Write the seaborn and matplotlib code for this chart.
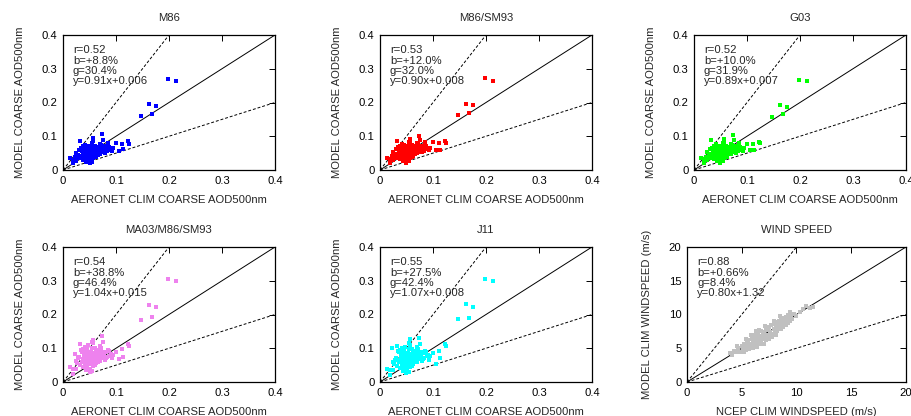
import numpy as np
import pandas as pd
import matplotlib
matplotlib.use("Agg")
import matplotlib.pyplot as plt
import seaborn as sns

# ---------------- data ----------------
aeronet_x = [0.199, 0.213, 0.163, 0.175, 0.147, 0.167, 0.123, 0.125, 0.111, 0.100,
             0.105, 0.113, 0.092, 0.095, 0.085, 0.088, 0.080, 0.082, 0.078, 0.074,
             0.075, 0.072, 0.032, 0.057, 0.057, 0.013, 0.019, 0.050, 0.018, 0.022,
             0.025, 0.028, 0.030, 0.033, 0.035, 0.036, 0.038, 0.038, 0.040, 0.040,
             0.042, 0.042, 0.043, 0.044, 0.045, 0.045, 0.046, 0.047, 0.048, 0.048,
             0.049, 0.050, 0.050, 0.051, 0.052, 0.053, 0.054, 0.055, 0.055, 0.056,
             0.057, 0.058, 0.059, 0.060, 0.061, 0.062, 0.063, 0.064, 0.065, 0.066,
             0.067, 0.068, 0.069, 0.070, 0.070, 0.071, 0.073, 0.076, 0.077, 0.079,
             0.081, 0.083, 0.086, 0.090, 0.034, 0.037, 0.039, 0.041, 0.044, 0.046,
             0.047, 0.049, 0.052, 0.053, 0.054, 0.056, 0.058, 0.060, 0.027, 0.024]

y_m86 = [0.270, 0.265, 0.195, 0.190, 0.160, 0.166, 0.085, 0.078, 0.077, 0.080,
         0.057, 0.062, 0.057, 0.065, 0.080, 0.062, 0.070, 0.058, 0.066, 0.106,
         0.088, 0.075, 0.085, 0.094, 0.085, 0.035, 0.020, 0.020, 0.030, 0.040,
         0.050, 0.045, 0.060, 0.035, 0.055, 0.042, 0.070, 0.030, 0.050, 0.062,
         0.040, 0.075, 0.025, 0.055, 0.047, 0.065, 0.035, 0.058, 0.043, 0.070,
         0.052, 0.038, 0.062, 0.030, 0.048, 0.056, 0.068, 0.042, 0.080, 0.052,
         0.035, 0.060, 0.047, 0.072, 0.055, 0.040, 0.065, 0.050, 0.058, 0.045,
         0.068, 0.053, 0.060, 0.048, 0.078, 0.055, 0.062, 0.052, 0.058, 0.050,
         0.062, 0.055, 0.068, 0.060, 0.065, 0.048, 0.058, 0.068, 0.033, 0.072,
         0.052, 0.060, 0.040, 0.065, 0.025, 0.045, 0.052, 0.038, 0.038, 0.028]

y_sm93 = [0.272, 0.263, 0.197, 0.192, 0.162, 0.168, 0.087, 0.080, 0.079, 0.082,
          0.059, 0.060, 0.058, 0.066, 0.082, 0.064, 0.071, 0.060, 0.067, 0.100,
          0.090, 0.076, 0.086, 0.092, 0.087, 0.037, 0.022, 0.022, 0.032, 0.042,
          0.052, 0.047, 0.062, 0.037, 0.057, 0.044, 0.072, 0.032, 0.052, 0.064,
          0.042, 0.077, 0.027, 0.057, 0.049, 0.067, 0.037, 0.060, 0.045, 0.072,
          0.054, 0.040, 0.064, 0.032, 0.050, 0.058, 0.070, 0.044, 0.082, 0.054,
          0.037, 0.062, 0.049, 0.074, 0.057, 0.042, 0.067, 0.052, 0.060, 0.047,
          0.070, 0.055, 0.062, 0.050, 0.080, 0.057, 0.064, 0.054, 0.060, 0.052,
          0.064, 0.057, 0.070, 0.062, 0.067, 0.050, 0.060, 0.070, 0.035, 0.074,
          0.054, 0.062, 0.042, 0.067, 0.027, 0.047, 0.054, 0.040, 0.040, 0.030]

y_g03 = [0.266, 0.264, 0.192, 0.187, 0.156, 0.165, 0.084, 0.080, 0.076, 0.078,
         0.058, 0.060, 0.056, 0.064, 0.079, 0.062, 0.070, 0.058, 0.065, 0.103,
         0.088, 0.074, 0.088, 0.092, 0.083, 0.037, 0.020, 0.021, 0.033, 0.040,
         0.052, 0.046, 0.062, 0.036, 0.056, 0.043, 0.070, 0.032, 0.050, 0.062,
         0.040, 0.076, 0.026, 0.055, 0.047, 0.065, 0.036, 0.058, 0.044, 0.071,
         0.052, 0.039, 0.062, 0.030, 0.048, 0.057, 0.068, 0.043, 0.080, 0.053,
         0.036, 0.060, 0.047, 0.072, 0.055, 0.040, 0.065, 0.050, 0.058, 0.046,
         0.068, 0.053, 0.060, 0.048, 0.078, 0.055, 0.062, 0.052, 0.058, 0.050,
         0.062, 0.055, 0.068, 0.060, 0.066, 0.049, 0.058, 0.068, 0.034, 0.072,
         0.052, 0.060, 0.041, 0.065, 0.026, 0.045, 0.052, 0.038, 0.039, 0.029]

y_ma03 = [0.304, 0.300, 0.228, 0.221, 0.183, 0.193, 0.112, 0.106, 0.098, 0.088,
          0.068, 0.075, 0.072, 0.080, 0.095, 0.078, 0.090, 0.070, 0.085, 0.137,
          0.118, 0.100, 0.113, 0.125, 0.115, 0.045, 0.025, 0.030, 0.038, 0.083,
          0.062, 0.070, 0.075, 0.050, 0.090, 0.060, 0.098, 0.045, 0.072, 0.085,
          0.055, 0.105, 0.035, 0.078, 0.065, 0.092, 0.050, 0.082, 0.060, 0.110,
          0.070, 0.052, 0.088, 0.040, 0.066, 0.078, 0.100, 0.058, 0.118, 0.072,
          0.048, 0.085, 0.065, 0.102, 0.075, 0.055, 0.090, 0.068, 0.080, 0.060,
          0.095, 0.072, 0.085, 0.062, 0.108, 0.076, 0.088, 0.070, 0.080, 0.065,
          0.088, 0.075, 0.092, 0.082, 0.095, 0.068, 0.080, 0.096, 0.042, 0.100,
          0.072, 0.080, 0.056, 0.090, 0.033, 0.062, 0.070, 0.050, 0.055, 0.040]

y_j11 = [0.304, 0.298, 0.230, 0.222, 0.186, 0.190, 0.112, 0.108, 0.092, 0.085,
         0.053, 0.070, 0.066, 0.078, 0.093, 0.076, 0.088, 0.068, 0.082, 0.130,
         0.112, 0.097, 0.108, 0.127, 0.110, 0.040, 0.022, 0.027, 0.035, 0.100,
         0.060, 0.065, 0.072, 0.048, 0.088, 0.058, 0.095, 0.042, 0.070, 0.082,
         0.052, 0.100, 0.032, 0.076, 0.062, 0.090, 0.048, 0.080, 0.058, 0.105,
         0.068, 0.050, 0.085, 0.038, 0.064, 0.075, 0.097, 0.055, 0.115, 0.070,
         0.045, 0.083, 0.063, 0.098, 0.072, 0.052, 0.088, 0.065, 0.078, 0.058,
         0.092, 0.070, 0.082, 0.060, 0.105, 0.073, 0.085, 0.068, 0.077, 0.062,
         0.085, 0.072, 0.090, 0.080, 0.092, 0.065, 0.078, 0.093, 0.040, 0.098,
         0.070, 0.077, 0.053, 0.087, 0.030, 0.060, 0.068, 0.048, 0.052, 0.037]

wind_x = [3.9, 4.1, 4.3, 4.5, 4.7, 4.8, 5.0, 5.1, 5.2, 5.3, 5.4, 5.5, 5.6, 5.6, 5.7,
          5.8, 5.9, 5.9, 6.0, 6.0, 6.1, 6.2, 6.2, 6.3, 6.4, 6.4, 6.5, 6.5, 6.6, 6.7,
          6.7, 6.8, 6.8, 6.9, 7.0, 7.0, 7.1, 7.2, 7.2, 7.3, 7.4, 7.4, 7.5, 7.6, 7.6,
          7.7, 7.8, 7.8, 7.9, 8.0, 8.0, 8.1, 8.2, 8.2, 8.3, 8.4, 8.4, 8.5, 8.6, 8.6,
          8.7, 8.8, 8.9, 9.0, 9.0, 9.1, 9.2, 9.3, 9.4, 9.5, 9.6, 9.8, 10.0, 10.3, 10.6,
          10.9, 11.2, 11.5, 6.3, 5.8, 7.1, 6.6, 7.9, 8.5, 5.4, 4.6, 9.2, 6.9, 7.5, 8.1,
          5.2, 6.0, 8.8, 9.4]
wind_y = [4.3, 4.0, 4.6, 4.4, 5.0, 4.5, 5.3, 4.8, 5.6, 5.1, 4.7, 5.8, 5.3, 6.2, 4.9,
          5.6, 6.4, 5.2, 6.0, 6.8, 5.5, 6.3, 7.0, 5.8, 6.6, 5.2, 6.1, 7.2, 6.8, 5.7,
          6.4, 7.5, 6.0, 6.9, 7.4, 5.6, 6.6, 7.9, 6.2, 7.0, 7.7, 6.5, 8.1, 6.9, 7.4,
          8.4, 7.1, 6.6, 7.8, 8.6, 7.3, 8.0, 8.9, 7.5, 8.3, 7.8, 9.1, 8.5, 7.9, 9.4,
          8.7, 8.2, 9.0, 8.5, 9.6, 9.2, 8.8, 9.7, 9.1, 9.9, 9.4, 10.1, 9.8, 10.4, 10.8,
          11.3, 11.0, 11.1, 7.5, 7.0, 8.3, 7.7, 9.1, 9.8, 6.3, 5.4, 10.0, 6.3, 6.4, 7.0,
          4.5, 5.0, 9.5, 10.4]

titles = ["M86", "M86/SM93", "G03", "MA03/M86/SM93", "J11", "WIND SPEED"]
colors = ["#0000ff", "#ff0000", "#00ff00", "#ee82ee", "#00ffff", "#c0c0c0"]
stats = [["r=0.52", "b=+8.8%", "g=30.4%", "y=0.91x+0.006"],
         ["r=0.53", "b=+12.0%", "g=32.0%", "y=0.90x+0.008"],
         ["r=0.52", "b=+10.0%", "g=31.9%", "y=0.89x+0.007"],
         ["r=0.54", "b=+38.8%", "g=46.4%", "y=1.04x+0.015"],
         ["r=0.55", "b=+27.5%", "g=42.4%", "y=1.07x+0.008"],
         ["r=0.88", "b=+0.66%", "g=8.4%", "y=0.80x+1.32"]]
aod_ticks = [0, 0.1, 0.2, 0.3, 0.4]
aod_ticklabels = ["0", "0.1", "0.2", "0.3", "0.4"]
wind_ticks = [0, 5, 10, 15, 20]
wind_ticklabels = ["0", "5", "10", "15", "20"]
aod_xlabel = "AERONET CLIM COARSE AOD500nm"
aod_ylabel = "MODEL COARSE AOD500nm"
wind_xlabel = "NCEP CLIM WINDSPEED (m/s)"
wind_ylabel = "MODEL CLIM WINDSPEED (m/s)"

# ---------------- plot ----------------
sns.set_style("white")
plt.rcParams["font.family"] = ["Liberation Sans", "DejaVu Sans"]
FS = 8.1
plt.rcParams["font.size"] = FS

W, H = 912, 416
fig = plt.figure(figsize=(W / 100, H / 100), dpi=100)

lefts = [63, 380, 694]
tops = [35, 247]
aw, ah = 212, 135

panels = [(aeronet_x, y_m86), (aeronet_x, y_sm93), (aeronet_x, y_g03),
          (aeronet_x, y_ma03), (aeronet_x, y_j11), (wind_x, wind_y)]

for i, (xs, ys) in enumerate(panels):
    r, c = divmod(i, 3)
    left = lefts[c] if i != 5 else 687
    width = aw if i != 5 else 219
    ax = fig.add_axes([left / W, 1 - (tops[r] + ah) / H, width / W, ah / H])
    df = pd.DataFrame({"x": xs, "y": ys})
    sns.scatterplot(data=df, x="x", y="y", ax=ax, color=colors[i], marker="s",
                    s=12, linewidth=0, zorder=3)
    if i == 5:
        ticks, tl, xl, yl = wind_ticks, wind_ticklabels, wind_xlabel, wind_ylabel
    else:
        ticks, tl, xl, yl = aod_ticks, aod_ticklabels, aod_xlabel, aod_ylabel
    lo, hi = ticks[0], ticks[-1]
    ax.set_xlim(lo, hi)
    ax.set_ylim(lo, hi)
    ref = np.array([lo, hi])
    ax.plot(ref, ref, color="black", lw=0.7, zorder=2)
    ax.plot(ref / 2, ref, color="black", lw=0.7, ls=(0, (3, 2)), zorder=2)
    ax.plot(ref, ref / 2, color="black", lw=0.7, ls=(0, (3, 2)), zorder=2)
    ax.set_xticks(ticks)
    ax.set_yticks(ticks)
    ax.set_xticklabels(tl)
    ax.set_yticklabels(tl)
    ax.tick_params(direction="in", top=True, right=True, length=4, width=0.7,
                   labelsize=FS, pad=4, colors="black")
    for sp in ax.spines.values():
        sp.set_linewidth(0.9)
        sp.set_color("black")
    ax.set_xlabel(xl, fontsize=FS, labelpad=7)
    ax.set_ylabel(yl, fontsize=FS, labelpad=12)
    ax.set_title(titles[i], fontsize=FS, pad=10)
    ax.text(0.047, 0.925, "\n".join(stats[i]), transform=ax.transAxes,
            ha="left", va="top", fontsize=FS, linespacing=1.05)

fig.savefig("out.png", dpi=100)
